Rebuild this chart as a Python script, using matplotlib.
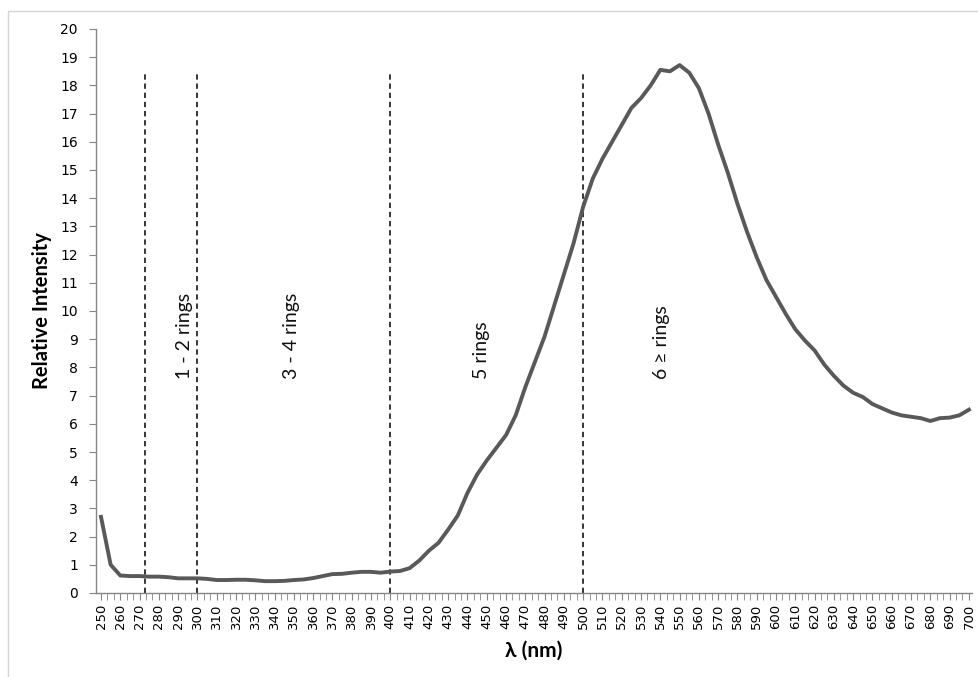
import matplotlib
matplotlib.use("Agg")
import matplotlib.pyplot as plt
from matplotlib.patches import Rectangle
from matplotlib.ticker import MultipleLocator

# wavelength (nm) and relative intensity
wavelength = list(range(250, 701, 5))
intensity = [
    2.7, 1.0, 0.62, 0.6, 0.6, 0.58, 0.58, 0.56, 0.52, 0.52,
    0.52, 0.5, 0.46, 0.46, 0.47, 0.47, 0.45, 0.42, 0.42, 0.43,
    0.46, 0.48, 0.53, 0.6, 0.67, 0.68, 0.72, 0.75, 0.75, 0.72,
    0.76, 0.78, 0.88, 1.15, 1.5, 1.78, 2.25, 2.75, 3.55, 4.2,
    4.7, 5.15, 5.6, 6.3, 7.3, 8.2, 9.1, 10.2, 11.3, 12.4,
    13.7, 14.7, 15.4, 16.0, 16.6, 17.2, 17.55, 18.0, 18.55, 18.5,
    18.72, 18.45, 17.9, 17.0, 15.9, 14.9, 13.8, 12.8, 11.9, 11.1,
    10.5, 9.9, 9.35, 8.95, 8.6, 8.1, 7.7, 7.35, 7.1, 6.95,
    6.7, 6.55, 6.4, 6.3, 6.25, 6.2, 6.1, 6.2, 6.22, 6.3,
    6.5,
]

# ring-count region boundaries and labels
boundaries = [273, 300, 400, 500]
region_labels = ["1 - 2 rings", "3 - 4 rings", "5 rings", "6 \u2265 rings"]
region_label_x = [293.5, 349, 447.5, 540.5]

fig = plt.figure(figsize=(9.79, 6.77), dpi=100)
fig.patches.append(Rectangle((8 / 979, -0.1), 1.2, 1.1 - 11 / 677,
                             transform=fig.transFigure, fill=False,
                             edgecolor="#d4d4d4", linewidth=1.0))
ax = fig.add_axes([96 / 979, 84 / 677, 876 / 979, 564 / 677])

ax.plot(wavelength, intensity, color="#595959", linewidth=2.8,
        solid_joinstyle="round", zorder=3)

for b in boundaries:
    ax.plot([b, b], [0, 18.5], color="black", linewidth=1.1,
            linestyle=(0, (3.5, 2.5)), zorder=2)

for xl, txt in zip(region_label_x, region_labels):
    ax.text(xl, 7.6, txt, rotation=90, ha="center", va="bottom",
            fontsize=14, family=["Lato", "DejaVu Sans"], color="#111111")

ax.set_xlim(247.4, 701.6)
ax.set_ylim(0, 20)

ax.xaxis.set_major_locator(MultipleLocator(10))
ax.xaxis.set_minor_locator(MultipleLocator(10 / 3))
ax.yaxis.set_major_locator(MultipleLocator(1))

for side in ["top", "right"]:
    ax.spines[side].set_visible(False)
for side in ["left", "bottom"]:
    ax.spines[side].set_color("#868686")
    ax.spines[side].set_linewidth(1.0)

ax.tick_params(axis="x", which="both", direction="out", length=5,
               color="#868686", labelrotation=90, labelsize=9.5, pad=3)
ax.tick_params(axis="y", direction="out", length=5, color="#868686",
               labelsize=10, pad=8)

ax.set_xlabel("\u03bb (nm)", fontsize=15, fontweight="bold",
              family=["Lato", "DejaVu Sans"], labelpad=8)
ax.set_ylabel("Relative Intensity", fontsize=14.5, fontweight="bold",
              family=["Lato", "DejaVu Sans"], labelpad=6)

fig.savefig("out.png", dpi=100)
